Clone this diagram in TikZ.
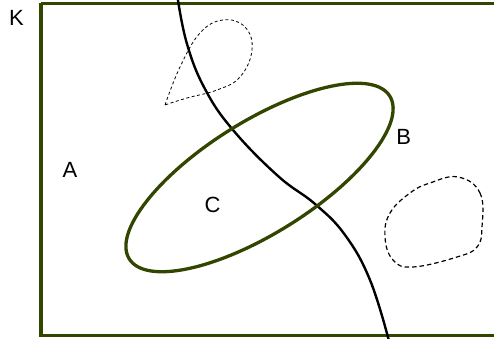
\documentclass[tikz,border=0pt]{standalone}
\usepackage{fontspec}
\setmainfont{Liberation Sans}
\definecolor{olivedk}{RGB}{50,70,0}
\begin{document}
\begin{tikzpicture}[x=1pt,y=1pt,
  frame/.style={draw=olivedk,line width=3.2pt},
  region/.style={draw=olivedk,line width=3.3pt},
  border/.style={draw=black,line width=2.4pt},
  dashthin/.style={draw=black,line width=0.8pt,dash pattern=on 3pt off 2.5pt},
  dashmed/.style={draw=black,line width=1.2pt,dash pattern=on 4.5pt off 3pt},
  lab/.style={font=\fontsize{22}{26}\selectfont,inner sep=0pt}]
\useasboundingbox (0,0) rectangle (494,339);
\clip (0,0) rectangle (494,339);
% frame
\draw[frame] (41,335.5) -- (41,3.5) -- (520,3.5);
\draw[frame] (41,335.5) -- (520,335.5);
% curve
\draw[border] plot[smooth,tension=0.7] coordinates {(177.5,342) (187,295) (205,250) (233,209) (278,163) (315,135) (345,104) (370,59) (389,-2)};
% ellipse
\coordinate (ec) at (259.5,161.5);
\draw[region, rotate around={32:(ec)}] (ec) ellipse [x radius=153.6, y radius=56];
% teardrop
\draw[dashthin] plot[smooth,tension=0.7] coordinates {(165,234) (180,272) (200,306) (223,319) (245,312) (252,289) (240,262) (217,249) (187,241) (165,234)};
% blob
\draw[dashmed] plot[smooth cycle,tension=0.7] coordinates {(458,162) (480,146) (482,112) (477,92) (457,82) (413,72) (393,79) (385,102) (390,126) (410,146) (430,156)};
% labels
\node[lab] (k) at (16.5,321.5) {K};
\node[lab] (a) at (70,169) {A};
\node[lab] (b) at (403.8,202.3) {B};
\node[lab] (c) at (212.5,134) {C};
\end{tikzpicture}
\end{document}
